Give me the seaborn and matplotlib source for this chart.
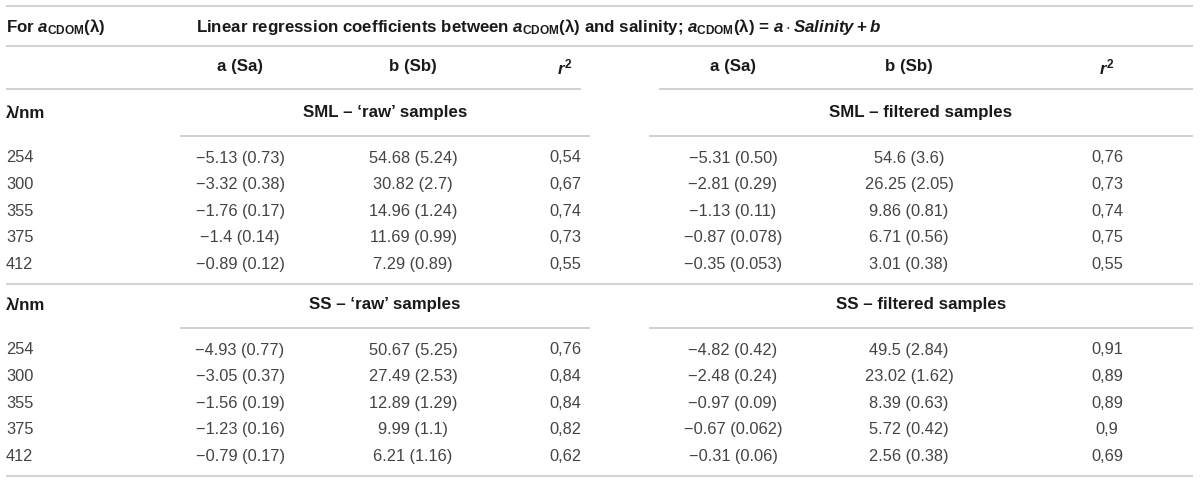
import seaborn as sns
import matplotlib.pyplot as plt
import pandas as pd

# Table values (estimate (standard error))
wavelengths = ['254', '300', '355', '375', '412']

sml_raw_a = ['−5.13 (0.73)', '−3.32 (0.38)', '−1.76 (0.17)', '−1.4 (0.14)', '−0.89 (0.12)']
sml_raw_b = ['54.68 (5.24)', '30.82 (2.7)', '14.96 (1.24)', '11.69 (0.99)', '7.29 (0.89)']
sml_raw_r2 = ['0,54', '0,67', '0,74', '0,73', '0,55']

sml_filt_a = ['−5.31 (0.50)', '−2.81 (0.29)', '−1.13 (0.11)', '−0.87 (0.078)', '−0.35 (0.053)']
sml_filt_b = ['54.6 (3.6)', '26.25 (2.05)', '9.86 (0.81)', '6.71 (0.56)', '3.01 (0.38)']
sml_filt_r2 = ['0,76', '0,73', '0,74', '0,75', '0,55']

ss_raw_a = ['−4.93 (0.77)', '−3.05 (0.37)', '−1.56 (0.19)', '−1.23 (0.16)', '−0.79 (0.17)']
ss_raw_b = ['50.67 (5.25)', '27.49 (2.53)', '12.89 (1.29)', '9.99 (1.1)', '6.21 (1.16)']
ss_raw_r2 = ['0,76', '0,84', '0,84', '0,82', '0,62']

ss_filt_a = ['−4.82 (0.42)', '−2.48 (0.24)', '−0.97 (0.09)', '−0.67 (0.062)', '−0.31 (0.06)']
ss_filt_b = ['49.5 (2.84)', '23.02 (1.62)', '8.39 (0.63)', '5.72 (0.42)', '2.56 (0.38)']
ss_filt_r2 = ['0,91', '0,89', '0,89', '0,9', '0,69']

col_headers = ['a (Sa)', 'b (Sb)', r'$r^{2}$']
block_titles = [["SML – ‘raw’ samples", 'SML – filtered samples'],
                ["SS – ‘raw’ samples", 'SS – filtered samples']]

blocks = [
    [(sml_raw_a, sml_raw_b, sml_raw_r2), (sml_filt_a, sml_filt_b, sml_filt_r2)],
    [(ss_raw_a, ss_raw_b, ss_raw_r2), (ss_filt_a, ss_filt_b, ss_filt_r2)],
]

sns.set_theme(style='white')
plt.rcParams['font.family'] = ['Liberation Sans', 'DejaVu Sans']
plt.rcParams['mathtext.fontset'] = 'custom'
plt.rcParams['mathtext.rm'] = 'Liberation Sans:bold'
plt.rcParams['mathtext.bf'] = 'Liberation Sans:bold'
plt.rcParams['mathtext.it'] = 'Liberation Sans:italic:bold'
plt.rcParams['mathtext.sf'] = 'Liberation Sans:bold'

fig = plt.figure(figsize=(12, 4.84), dpi=100)
ax = fig.add_axes([0, 0, 1, 1])
ax.set_xlim(0, 1200)
ax.set_ylim(484, 0)
ax.axis('off')

body_color = '#444444'
head_color = '#1a1a1a'
line_color = '#d2d2d2'
fs_head = 12.2
fs = 11.8

# column centres (left group, right group)
col_x = [[240, 413, 565], [733, 909, 1107]]
group_span = [(180, 590), (649, 1193)]


def hline(y, x0=6, x1=1193):
    ax.plot([x0, x1], [y, y], color=line_color, lw=1.5, solid_capstyle='butt')


lam = dict(family='DejaVu Serif', fontweight='normal')

# top header
hline(6)
ax.text(6, 27, r'For $a_{\mathrm{CDOM}}$(λ)', fontsize=fs_head, fontweight='bold',
        color=head_color, va='center', ha='left')
ax.text(196, 27, r'Linear regression coefficients between $a_{\mathrm{CDOM}}$(λ) and salinity; '
        r'$a_{\mathrm{CDOM}}$(λ) = $a \cdot Salinity + b$',
        fontsize=fs_head, fontweight='bold', color=head_color, va='center', ha='left')
hline(46)

for g in range(2):
    for c, h in enumerate(col_headers):
        ax.text(col_x[g][c], 67, h, fontsize=fs_head, fontweight='bold', color=head_color,
                ha='center', va='center')
hline(89, 6, 581)
hline(89, 659, 1193)

# two sections: title row, then 5 data rows
section_top = [113, 305]
row_step = 26.6
for s in range(2):
    yt = section_top[s]
    ax.text(6, yt, 'λ/nm', fontsize=fs_head, fontweight='bold', color=head_color,
            ha='left', va='center')
    for g in range(2):
        x0, x1 = group_span[g]
        ax.text((x0 + x1) / 2, yt, block_titles[s][g], fontsize=fs_head, fontweight='bold',
                color=head_color, ha='center', va='center')
        hline(yt + 22.5, x0, x1)
    df = pd.DataFrame({'wl': wavelengths})
    for g in range(2):
        a_vals, b_vals, r_vals = blocks[s][g]
        df[f'a{g}'] = a_vals
        df[f'b{g}'] = b_vals
        df[f'r{g}'] = r_vals
    for i, row in df.iterrows():
        y = yt + 45 + i * row_step
        ax.text(6, y, row['wl'], fontsize=fs, color=body_color, ha='left', va='center')
        for g in range(2):
            for c, key in enumerate(['a', 'b', 'r']):
                ax.text(col_x[g][c], y, row[f'{key}{g}'], fontsize=fs, color=body_color,
                        ha='center', va='center')
    end_y = yt + 45 + 4 * row_step + 20
    hline(end_y)

fig.savefig('out.png', dpi=100, facecolor='white')
plt.close(fig)
